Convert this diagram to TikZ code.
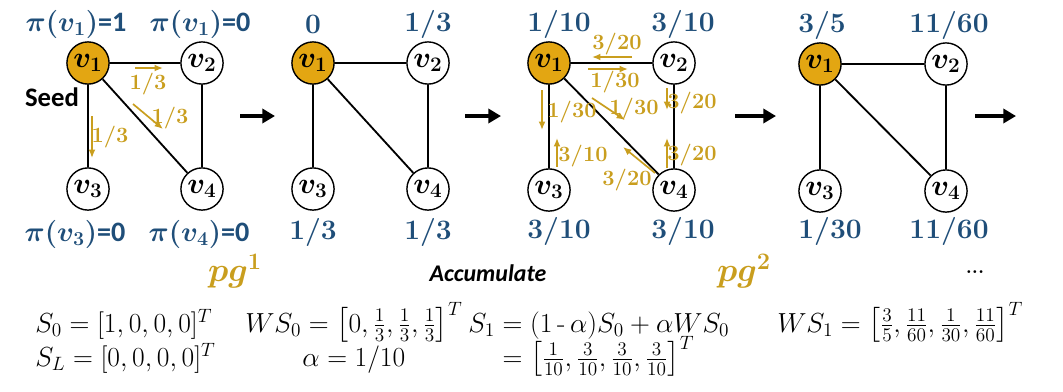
\RequirePackage{fix-cm}
\documentclass[tikz,border=0pt]{standalone}
\usepackage{amsmath,bm}
\usepackage{fontspec}
\setsansfont{Carlito}
\usetikzlibrary{arrows.meta}

\definecolor{seedgold}{HTML}{E3A612}
\definecolor{flowgold}{HTML}{C99E1E}
\definecolor{rankblue}{HTML}{1F4E79}

\tikzset{
  vtx/.style={circle,draw,line width=1pt,minimum size=30pt,inner sep=0pt,
    fill=white,font=\fontsize{21}{22}\selectfont},
  seedvtx/.style={vtx,fill=seedgold},
  edge/.style={line width=1.3pt},
  flow/.style={flowgold,line width=1.2pt,-{Latex[length=6pt,width=5pt]}},
  flowlbl/.style={flowgold,font=\fontsize{15.5}{17}\selectfont\bfseries,inner sep=1pt},
  rank/.style={rankblue,font=\fontsize{20}{22}\selectfont\bfseries,inner sep=1pt},
  nextarrow/.style={line width=3pt,-{Triangle[length=9pt,width=10pt]}},
  pglbl/.style={flowgold,font=\fontsize{24}{26}\selectfont},
  eqn/.style={anchor=base west,inner sep=0pt,font=\fontsize{19.6}{21}\selectfont},
}

\begin{document}
\begin{tikzpicture}[x=0.025cm,y=-0.025cm]

\useasboundingbox (0,0) rectangle (1063,391);

%------------------------------------------------
% Graph 1: initial state
%------------------------------------------------
\begin{scope}[shift={(88,63)}]

\node[seedvtx] (a1) at (0,0) {$\bm{v_1}$};
\node[vtx] (a2) at (114,0) {$\bm{v_2}$};
\node[vtx] (a3) at (0,126) {$\bm{v_3}$};
\node[vtx] (a4) at (114,126) {$\bm{v_4}$};
\draw[edge] (a1)--(a2) (a1)--(a3) (a1)--(a4) (a2)--(a4);

\node[rank] (ra1) at (-12,-39) {$\bm{\pi(v_1)}$\textsf{=1}};
\node[rank] (ra2) at (112,-39) {$\bm{\pi(v_1)}$\textsf{=0}};
\node[rank] (ra3) at (-13,171) {$\bm{\pi(v_3)}$\textsf{=0}};
\node[rank] (ra4) at (111,171) {$\bm{\pi(v_4)}$\textsf{=0}};

\node[font=\fontsize{19}{20}\selectfont\sffamily\bfseries] (seed) at (-36,34) {Seed};

% walks out of the seed
\draw[flow] (47,5)--(75,5);
\node[flowlbl] (fa1) at (60,21) {1/3};
\draw[flow] (45,41)--(75,66);
\node[flowlbl] (fa2) at (82,55) {1/3};
\draw[flow] (4,53)--(4,95);
\node[flowlbl] (fa3) at (22,74) {1/3};

\end{scope}

%------------------------------------------------
% Graph 2
%------------------------------------------------
\begin{scope}[shift={(313,63)}]

\node[seedvtx] (b1) at (0,0) {$\bm{v_1}$};
\node[vtx] (b2) at (115,0) {$\bm{v_2}$};
\node[vtx] (b3) at (0,126) {$\bm{v_3}$};
\node[vtx] (b4) at (115,126) {$\bm{v_4}$};
\draw[edge] (b1)--(b2) (b1)--(b3) (b1)--(b4) (b2)--(b4);

\node[rank] (rb1) at (0,-39) {0};
\node[rank] (rb2) at (115,-39) {1/3};
\node[rank] (rb3) at (0,169) {1/3};
\node[rank] (rb4) at (115,169) {1/3};

\end{scope}

%------------------------------------------------
% Graph 3
%------------------------------------------------
\begin{scope}[shift={(549,63)}]

\node[seedvtx] (c1) at (0,0) {$\bm{v_1}$};
\node[vtx] (c2) at (125,0) {$\bm{v_2}$};
\node[vtx] (c3) at (0,127) {$\bm{v_3}$};
\node[vtx] (c4) at (125,127) {$\bm{v_4}$};
\draw[edge] (c1)--(c2) (c1)--(c3) (c1)--(c4) (c2)--(c4);

\node[rank] (rc1) at (10,-39) {1/10};
\node[rank] (rc2) at (134,-39) {3/10};
\node[rank] (rc3) at (10,168) {3/10};
\node[rank] (rc4) at (134,168) {3/10};

% walks along every edge
\draw[flow] (83,-6)--(43,-6);
\node[flowlbl] (fc1) at (68,-19) {3/20};
\draw[flow] (39,6)--(79,6);
\node[flowlbl] (fc2) at (66,19) {1/30};
\draw[flow] (-7,27)--(-7,67);
\node[flowlbl] (fc3) at (23,49) {1/30};
\draw[flow] (8,104)--(8,75);
\node[flowlbl] (fc4) at (34,93) {3/10};
\draw[flow] (43,35)--(76,57);
\node[flowlbl] (fc5) at (85,46) {1/30};
\draw[flow] (106,110)--(74,84);
\node[flowlbl] (fc6) at (78,117) {3/20};
\draw[flow] (118,25)--(118,47);
\node[flowlbl] (fc7) at (143,40) {3/20};
\draw[flow] (118,105)--(118,75);
\node[flowlbl] (fc8) at (143,92) {3/20};

\end{scope}

%------------------------------------------------
% Graph 4
%------------------------------------------------
\begin{scope}[shift={(820,64)}]

\node[seedvtx] (d1) at (0,0) {$\bm{v_1}$};
\node[vtx] (d2) at (126,0) {$\bm{v_2}$};
\node[vtx] (d3) at (0,127) {$\bm{v_3}$};
\node[vtx] (d4) at (126,127) {$\bm{v_4}$};
\draw[edge] (d1)--(d2) (d1)--(d3) (d1)--(d4) (d2)--(d4);

\node[rank] (rd1) at (2,-39) {3/5};
\node[rank] (rd2) at (129,-39) {11/60};
\node[rank] (rd3) at (10,167) {1/30};
\node[rank] (rd4) at (129,167) {11/60};

\end{scope}

% arrows between the steps
\coordinate (s1) at (240,116); \coordinate (e1) at (275,116);
\coordinate (s2) at (465,116); \coordinate (e2) at (501,116);
\coordinate (s3) at (735,116); \coordinate (e3) at (776,116);
\coordinate (s4) at (975,116); \coordinate (e4) at (1016,116);
\draw[nextarrow] (s1)--(e1);
\draw[nextarrow] (s2)--(e2);
\draw[nextarrow] (s3)--(e3);
\draw[nextarrow] (s4)--(e4);

% step names
\node[pglbl] (pg1) at (235,271) {$\bm{pg^1}$};
\node[font=\fontsize{17}{19}\selectfont\sffamily\bfseries\itshape] (acc) at (488,273) {Accumulate};
\node[pglbl] (pg2) at (744,271) {$\bm{pg^2}$};
\node[font=\fontsize{14}{15}\selectfont\bfseries] (more) at (975,272) {...};

% formulas
\node[eqn] (eq1) at (35,332) {$S_0 = [1,0,0,0]^T$};
\node[eqn] (eq2) at (35,366) {$S_L = [0,0,0,0]^T$};
\node[eqn] (eq3) at (245,332) {$WS_0 = \bigl[0,\tfrac{1}{3},\tfrac{1}{3},\tfrac{1}{3}\bigr]^T$};
\node[eqn] (eq4) at (302,366) {$\alpha = 1/10$};
\node[eqn] (eq5) at (468,332) {$S_1 = (1\,\text{-}\,\alpha)S_0 + \alpha W S_0$};
\node[eqn] (eq6) at (468,366) {$\phantom{S_1} = \bigl[\tfrac{1}{10},\tfrac{3}{10},\tfrac{3}{10},\tfrac{3}{10}\bigr]^T$};
\node[eqn] (eq7) at (777,332) {$WS_1 = \bigl[\tfrac{3}{5},\tfrac{11}{60},\tfrac{1}{30},\tfrac{11}{60}\bigr]^T$};

\end{tikzpicture}
\end{document}
